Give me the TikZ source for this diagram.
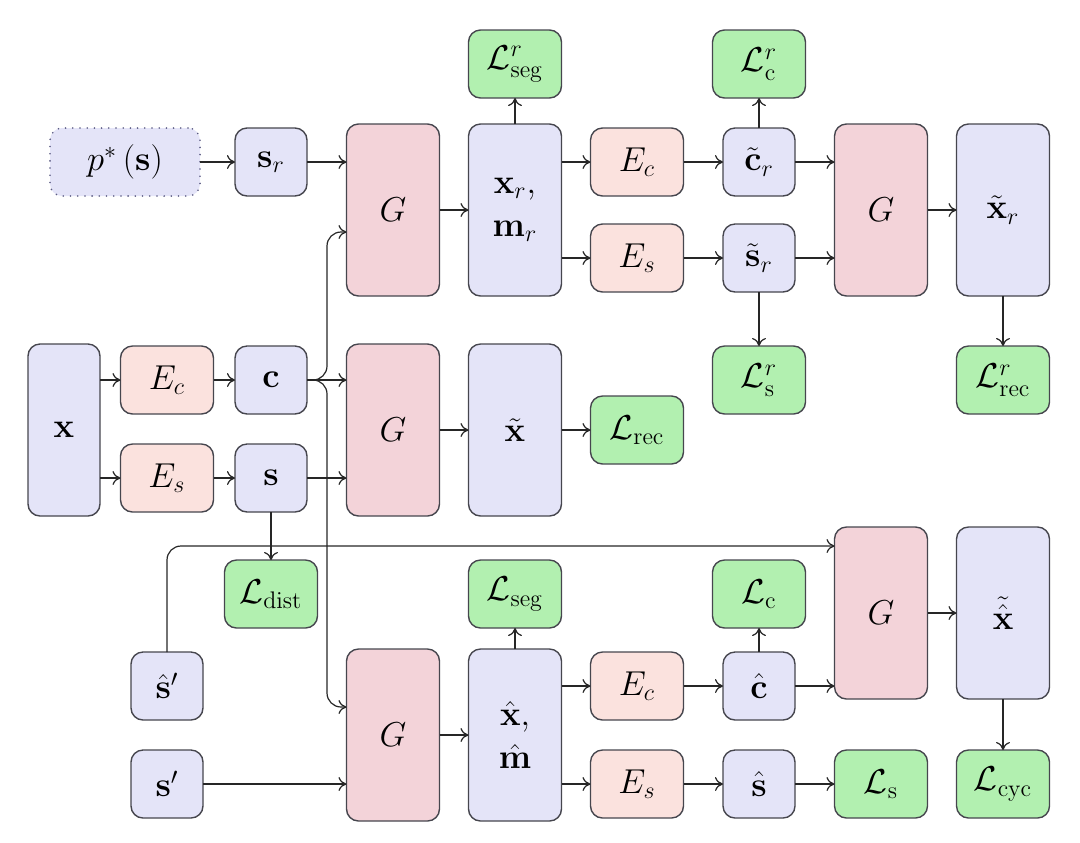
\documentclass[tikz,border=0pt]{standalone}
\usetikzlibrary{arrows.meta}
\definecolor{bluef}{RGB}{228,228,248}
\definecolor{redG}{RGB}{243,211,217}
\definecolor{redE}{RGB}{251,226,222}
\definecolor{greenf}{RGB}{178,240,176}
\definecolor{edgec}{RGB}{70,70,78}
\definecolor{dotc}{RGB}{90,90,130}
\begin{document}
\begin{tikzpicture}[x=0.5pt,y=-0.5pt,
  box/.style={draw=edgec,line width=0.7pt,rounded corners=6pt,inner sep=0pt,outer sep=0pt,
    font=\fontsize{16.5}{19.5}\selectfont,align=center},
  vsmall/.style={box,fill=bluef,minimum width=36pt,minimum height=34pt},
  vtall/.style={box,fill=bluef,minimum width=46.5pt,minimum height=86pt},
  gen/.style={box,fill=redG,minimum width=46.5pt,minimum height=86pt},
  enc/.style={box,fill=redE,minimum width=46.5pt,minimum height=34pt},
  loss/.style={box,fill=greenf,minimum width=46.5pt,minimum height=34pt},
  arr/.style={-{To[length=4pt,width=7pt]},line width=0.6pt,black!85},
  rarr/.style={arr,rounded corners=7pt}]
\useasboundingbox (0,0) rectangle (1080,842);
% top row
\node[box,fill=bluef,draw=dotc,line cap=round,dash pattern=on 0pt off 3.6pt,line width=0.9pt,minimum width=75pt,minimum height=34pt] (p) at (125,162) {$p^*\left(\mathbf{s}\right)$};
\node[vsmall] (sr) at (271,162) {$\mathbf{s}_r$};
\node[gen] (Gt) at (393,210) {$G$};
\node[vtall] (xr) at (515,210) {$\mathbf{x}_r,$\\[2pt]$\mathbf{m}_r$};
\node[loss] (Lrseg) at (515,64) {$\mathcal{L}^r_{\mathrm{seg}}$};
\node[enc] (Ect) at (637,162) {$E_c$};
\node[enc] (Est) at (637,258) {$E_s$};
\node[vsmall] (crt) at (759,162) {$\tilde{\mathbf{c}}_r$};
\node[vsmall] (srt) at (759,258) {$\tilde{\mathbf{s}}_r$};
\node[loss] (Lrc) at (759,64) {$\mathcal{L}^r_{\mathrm{c}}$};
\node[gen] (GRt) at (881,210) {$G$};
\node[vtall] (xrt) at (1003,210) {$\tilde{\mathbf{x}}_r$};
\node[loss] (Lrs) at (759,380) {$\mathcal{L}^r_{\mathrm{s}}$};
\node[loss] (Lrrec) at (1003,380) {$\mathcal{L}^r_{\mathrm{rec}}$};
% middle row
\node[box,fill=bluef,minimum width=36pt,minimum height=86pt] (x) at (64,430) {$\mathbf{x}$};
\node[enc] (Ecm) at (167,380) {$E_c$};
\node[enc] (Esm) at (167,478) {$E_s$};
\node[vsmall] (c) at (271,380) {$\mathbf{c}$};
\node[vsmall] (s) at (271,478) {$\mathbf{s}$};
\node[gen] (Gm) at (393,430) {$G$};
\node[vtall] (xt) at (515,430) {$\tilde{\mathbf{x}}$};
\node[loss] (Lrec) at (637,430) {$\mathcal{L}_{\mathrm{rec}}$};
% bottom rows
\node[loss] (Ldist) at (271,594) {$\mathcal{L}_{\mathrm{dist}}$};
\node[vsmall] (shp) at (167,686) {$\hat{\mathbf{s}}'$};
\node[vsmall] (sp) at (167,784) {$\mathbf{s}'$};
\node[gen] (Gb) at (393,735) {$G$};
\node[vtall] (xhm) at (515,735) {$\hat{\mathbf{x}},$\\[2pt]$\hat{\mathbf{m}}$};
\node[loss] (Lseg) at (515,594) {$\mathcal{L}_{\mathrm{seg}}$};
\node[enc] (Ecb) at (637,686) {$E_c$};
\node[enc] (Esb) at (637,784) {$E_s$};
\node[vsmall] (ch) at (759,686) {$\hat{\mathbf{c}}$};
\node[vsmall] (sh) at (759,784) {$\hat{\mathbf{s}}$};
\node[loss] (Lc) at (759,594) {$\mathcal{L}_{\mathrm{c}}$};
\node[loss] (Ls) at (881,784) {$\mathcal{L}_{\mathrm{s}}$};
\node[gen] (GRb) at (881,613) {$G$};
\node[vtall] (xht) at (1003,613) {$\tilde{\hat{\mathbf{x}}}$};
\node[loss] (Lcyc) at (1003,784) {$\mathcal{L}_{\mathrm{cyc}}$};
% connectors top
\draw[arr] (p) -- (sr);
\draw[arr] (sr.east) -- (sr.east -| Gt.west);
\draw[arr] (Gt) -- (xr);
\draw[arr] (xr) -- (Lrseg);
\draw[arr] (Ect.west -| xr.east) -- (Ect.west);
\draw[arr] (Est.west -| xr.east) -- (Est.west);
\draw[arr] (Ect) -- (crt);
\draw[arr] (Est) -- (srt);
\draw[arr] (crt) -- (Lrc);
\draw[arr] (srt) -- (Lrs);
\draw[arr] (crt.east) -- (crt.east -| GRt.west);
\draw[arr] (srt.east) -- (srt.east -| GRt.west);
\draw[arr] (GRt) -- (xrt);
\draw[arr] (xrt) -- (Lrrec);
% middle
\draw[arr] (Ecm.west -| x.east) -- (Ecm.west);
\draw[arr] (Esm.west -| x.east) -- (Esm.west);
\draw[arr] (Ecm) -- (c);
\draw[arr] (Esm) -- (s);
\draw[arr] (c.east) -- (c.east -| Gm.west);
\draw[rarr] (c.east) -- ++(20,0) |- ([yshift=-11pt]Gt.west);
\draw[rarr] (c.east) -- ++(20,0) |- ([yshift=14pt]Gb.west);
\draw[arr] (s.east) -- (s.east -| Gm.west);
\draw[arr] (s) -- (Ldist);
\draw[arr] (Gm) -- (xt);
\draw[arr] (xt) -- (Lrec);
% bottom
\draw[rarr] (shp.north) |- ([yshift=33.5pt]GRb.west);
\draw[arr] (sp.east) -- (sp.east -| Gb.west);
\draw[arr] (Gb) -- (xhm);
\draw[arr] (xhm) -- (Lseg);
\draw[arr] (Ecb.west -| xhm.east) -- (Ecb.west);
\draw[arr] (Esb.west -| xhm.east) -- (Esb.west);
\draw[arr] (Ecb) -- (ch);
\draw[arr] (Esb) -- (sh);
\draw[arr] (ch) -- (Lc);
\draw[arr] (ch.east) -- (ch.east -| GRb.west);
\draw[arr] (sh) -- (Ls);
\draw[arr] (GRb) -- (xht);
\draw[arr] (xht) -- (Lcyc);
\end{tikzpicture}
\end{document}
